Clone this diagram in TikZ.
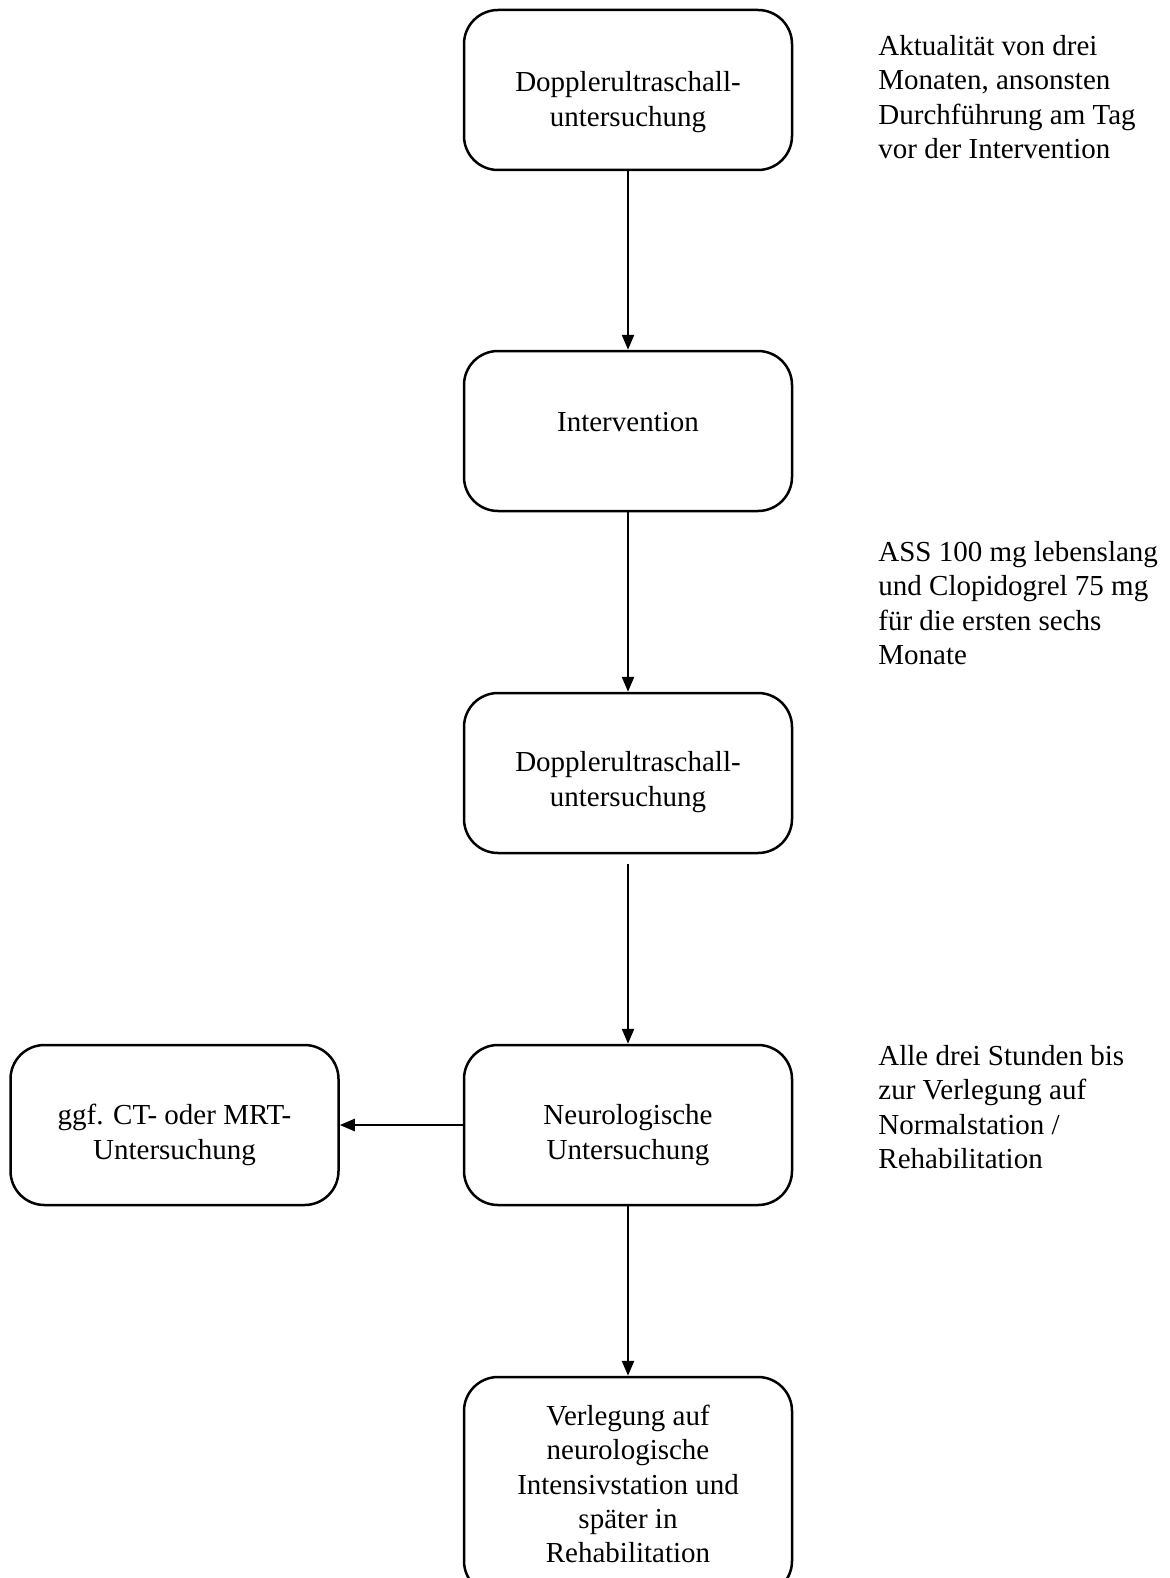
\documentclass[tikz,border=0pt]{standalone}
\usepackage{fontspec}
\setmainfont{Liberation Serif}
\usepackage{tikz}
\usetikzlibrary{arrows.meta, positioning}

\begin{document}
\begin{tikzpicture}[
        x=0.5pt, y=-0.5pt,
        >={Triangle[length=7.5pt, width=6pt]},
        box/.style={draw, rounded corners=17pt, line width=1.25pt, minimum width=164pt, minimum height=80pt, inner sep=0pt},
        txt/.style={align=center, inner sep=0pt, font=\fontsize{14.5}{17.1}\selectfont},
        note/.style={align=left, anchor=west, inner sep=0pt, font=\fontsize{14.5}{17.1}\selectfont},
        edge/.style={->, line width=1.2pt}
    ]
        \useasboundingbox (0,0) rectangle (1170,1578);
        \clip (0,0) rectangle (1170,1578);

        % Kästen
        \path
            (628,90)    node[box] (b1) {}
            (628,431)   node[box] (b2) {}
            (628,773)   node[box] (b3) {}
            (628,1125)  node[box] (b4) {}
            (174.5,1125) node[box] (b6) {}
            (628,1486)  node[box, minimum height=109pt] (b5) {};

        % Beschriftung der Kästen
        \node[txt] (t1) at (628,102)    {Dopplerultraschall-\\untersuchung};
        \node[txt] (t2) at (628,422)    {Intervention};
        \node[txt] (t3) at (628,782)    {Dopplerultraschall-\\untersuchung};
        \node[txt] (t4) at (628,1135)   {Neurologische\\Untersuchung};
        \node[txt] (t6) at (174.5,1135) {ggf. CT- oder MRT-\\Untersuchung};
        \node[txt] (t5) at (628,1484)   {Verlegung auf\\neurologische\\Intensivstation und\\später in\\Rehabilitation};

        % Anmerkungen rechts
        \node[note] (n1) at (878,97)   {Aktualität von drei\\Monaten, ansonsten\\Durchführung am Tag\\vor der Intervention};
        \node[note] (n2) at (878,603)  {ASS 100 mg lebenslang\\und Clopidogrel 75 mg\\für die ersten sechs\\Monate};
        \node[note] (n3) at (878,1107) {Alle drei Stunden bis\\zur Verlegung auf\\Normalstation /\\Rehabilitation};

        % Pfeile
        \draw[edge] (b1) -- (b2);
        \draw[edge] (b2) -- (b3);
        \draw[edge, shorten <=5pt] (b3) -- (b4);
        \draw[edge] (b4) -- (b5);
        \draw[edge] (b4) -- (b6);
    \end{tikzpicture}
\end{document}
